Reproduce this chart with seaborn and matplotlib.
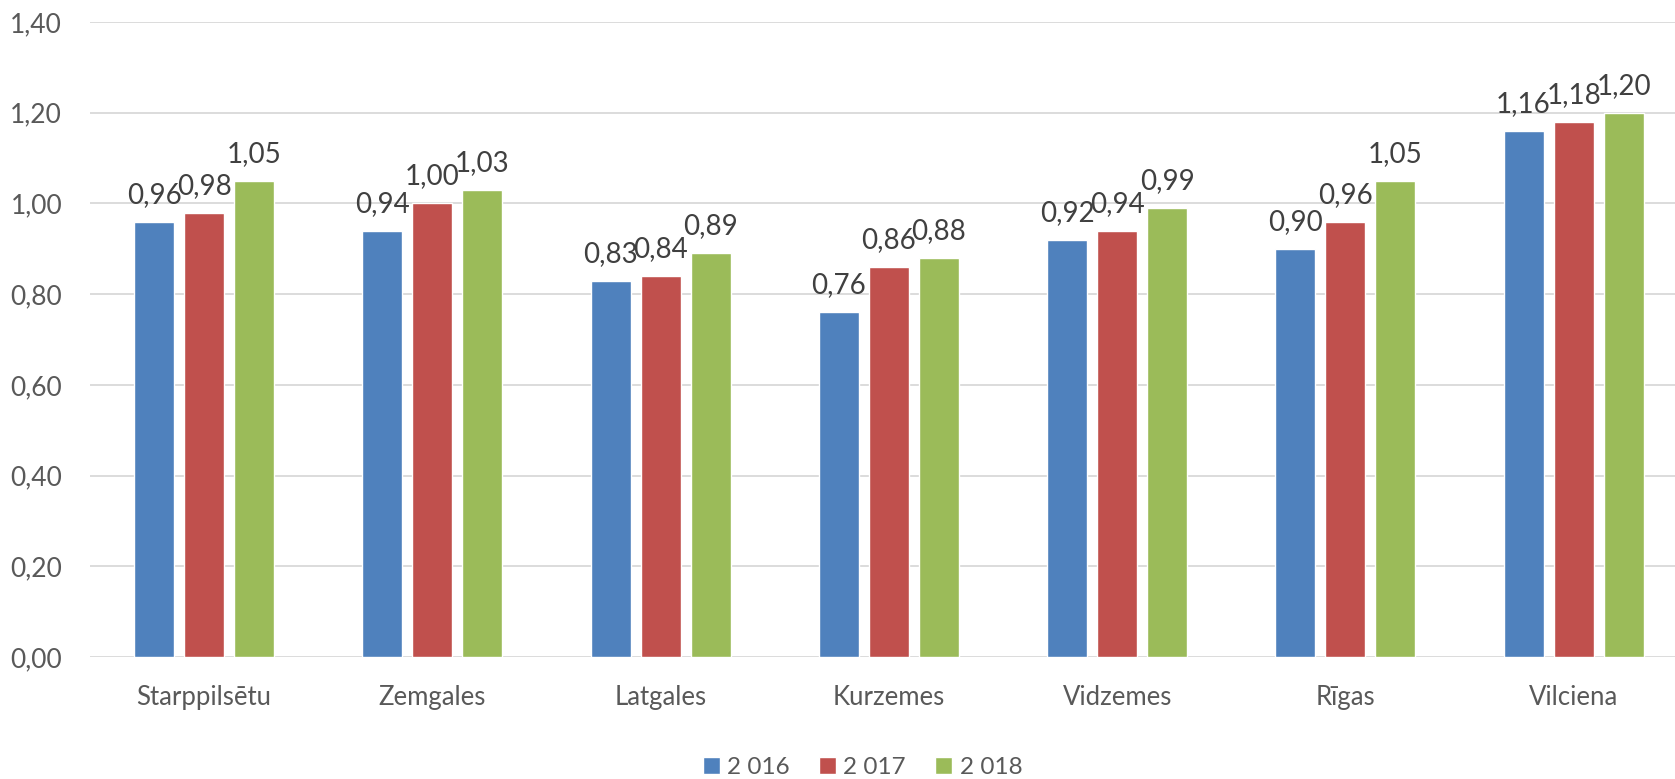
import matplotlib
matplotlib.use("Agg")
import matplotlib.pyplot as plt
import seaborn as sns
import pandas as pd

categories = ["Starppilsētu", "Zemgales", "Latgales", "Kurzemes", "Vidzemes", "Rīgas", "Vilciena"]
years = ["2 016", "2 017", "2 018"]
vals_2016 = [0.96, 0.94, 0.83, 0.76, 0.92, 0.90, 1.16]
vals_2017 = [0.98, 1.00, 0.84, 0.86, 0.94, 0.96, 1.18]
vals_2018 = [1.05, 1.03, 0.89, 0.88, 0.99, 1.05, 1.20]
colors = ["#4F81BD", "#C0504D", "#9BBB59"]

rows = []
for yr, vals in zip(years, [vals_2016, vals_2017, vals_2018]):
    for c, v in zip(categories, vals):
        rows.append({"cat": c, "year": yr, "value": v})
df = pd.DataFrame(rows)

sns.set_theme(style="white")
plt.rcParams["font.family"] = ["Lato", "DejaVu Sans"]

fig = plt.figure(figsize=(16.75, 7.79), dpi=100)
ax = fig.add_axes([90 / 1675, 122 / 779, 1 - 90 / 1675, 635 / 779])

sns.barplot(data=df, x="cat", y="value", hue="year", palette=colors,
            width=0.658, gap=0.2, ax=ax, legend=True, saturation=1)

for cont in ax.containers:
    ax.bar_label(cont, labels=[f"{v:.2f}".replace(".", ",") for v in cont.datavalues],
                 padding=10, fontsize=20, color="#404040")

ax.set_ylim(0, 1.40)
ax.set_xlim(-0.5, -0.5 + 1585 / 228.25)
ax.set_yticks([0, 0.2, 0.4, 0.6, 0.8, 1.0, 1.2, 1.4])
ax.set_yticklabels([f"{t:.2f}".replace(".", ",") for t in ax.get_yticks()])
ax.yaxis.grid(True, color="#D9D9D9", linewidth=1.3)
ax.set_axisbelow(True)
for s in ax.spines.values():
    s.set_visible(False)
ax.tick_params(axis="y", length=0, pad=20, labelsize=19, labelcolor="#595959")
ax.tick_params(axis="x", length=0, pad=20, labelsize=18.5, labelcolor="#595959")
ax.set_xlabel("")
ax.set_ylabel("")

handles, labels = ax.get_legend_handles_labels()
ax.legend_.remove()
fig.legend(handles, labels, loc="center", bbox_to_anchor=(0.515, 0.015), ncol=3,
           frameon=False, fontsize=17.5, handlelength=0.7, handleheight=0.7,
           handletextpad=0.3, columnspacing=1.2, labelcolor="#595959")

fig.savefig("out.png", dpi=100)
